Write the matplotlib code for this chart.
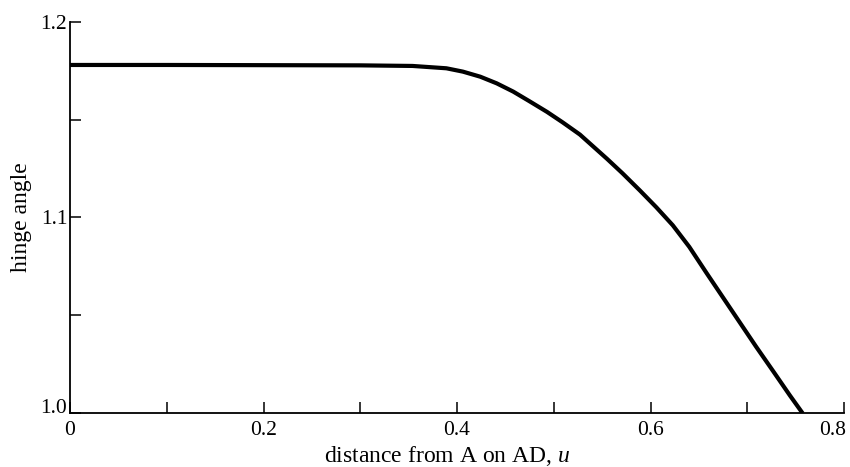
import numpy as np
import matplotlib.pyplot as plt
from matplotlib.ticker import FixedLocator
from matplotlib.transforms import ScaledTranslation

# values
u = [0.0, 0.1, 0.2, 0.3, 0.354, 0.389, 0.406, 0.424, 0.441, 0.458, 0.475,
     0.493, 0.509, 0.527, 0.555, 0.571, 0.589, 0.606, 0.623, 0.640, 0.658,
     0.675, 0.692, 0.709, 0.727, 0.744, 0.756]
angle = [1.178, 1.178, 1.1779, 1.1778, 1.1775, 1.1763, 1.1746, 1.1720, 1.1686,
         1.1644, 1.1594, 1.1540, 1.1487, 1.1424, 1.1300, 1.1226, 1.1138, 1.1052,
         1.0960, 1.0850, 1.0715, 1.0590, 1.0465, 1.0340, 1.0212, 1.0090, 1.0007]

xticks = [0, 0.2, 0.4, 0.6, 0.8]
xticklabels = ["0", "0.2", "0.4", "0.6", "0.8"]
xminor = [0.1, 0.3, 0.5, 0.7]
yticks = [1.0, 1.1, 1.2]
yticklabels = ["1.0", "1.1", "1.2"]
yminor = [1.05, 1.15]

plt.rcParams["font.family"] = ["Liberation Serif", "DejaVu Serif"]
plt.rcParams["mathtext.fontset"] = "custom"
plt.rcParams["mathtext.it"] = "Liberation Serif:italic"

fig = plt.figure(figsize=(8.5, 4.67), dpi=100)
ax = fig.add_axes([0.0824, 0.1156, 0.9106, 0.8374])

ax.plot(u, angle, color="black", linewidth=3.0, solid_joinstyle="round")

ax.set_xlim(0, 0.8)
ax.set_ylim(1.0, 1.2)

for s in ["top", "right"]:
    ax.spines[s].set_visible(False)
for s in ["left", "bottom"]:
    ax.spines[s].set_linewidth(1.3)

ax.set_xticks(xticks)
ax.set_xticklabels(xticklabels)
ax.set_yticks(yticks)
ax.set_yticklabels(yticklabels)
ax.xaxis.set_minor_locator(FixedLocator(xminor))
ax.yaxis.set_minor_locator(FixedLocator(yminor))
ax.tick_params(which="both", direction="in", length=8, width=1.1)
ax.tick_params(axis="x", pad=6, labelsize=15.5)
ax.tick_params(axis="y", pad=2, labelsize=15.5)

# nudge edge labels like the printed figure
last = ax.get_xticklabels()[-1]
last.set_transform(last.get_transform() + ScaledTranslation(-8 / 72, 0, fig.dpi_scale_trans))
first_y = ax.get_yticklabels()[0]
first_y.set_verticalalignment("baseline")

ax.set_xlabel(r"distance from A on AD, $u$", fontsize=17)
ax.xaxis.set_label_coords(0.4875, -0.078, transform=ax.transAxes)
ax.xaxis.label.set_verticalalignment("top")
ax.set_ylabel("hinge angle", fontsize=17, labelpad=6)

fig.savefig("out.png", dpi=100)
